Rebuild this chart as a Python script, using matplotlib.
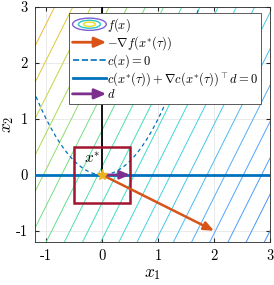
import numpy as np
import matplotlib.pyplot as plt
from matplotlib.colors import LinearSegmentedColormap, Normalize
from matplotlib.legend_handler import HandlerBase
from matplotlib.patches import Ellipse, FancyArrowPatch, Rectangle
from matplotlib.lines import Line2D

plt.rcParams['font.family'] = ['cmr10', 'DejaVu Serif']
plt.rcParams['mathtext.fontset'] = 'cm'
plt.rcParams['axes.formatter.use_mathtext'] = True

# problem data
grad_f = [-2.0, 1.0]                 # f(x) = grad_f . x (linear objective)
x_star = [0.0, 0.0]
step_d = [0.5, 0.0]
trust_radius = 0.5
f_levels = np.arange(-8.95, 6.0, 0.65)
ticks = [-1, 0, 1, 2, 3]
tick_labels = ['-1', '0', '1', '2', '3']
xlim = [-1.2, 3.0]
ylim = [-1.2, 3.0]

# colours of the contour lines, low f -> high f
level_cmap = LinearSegmentedColormap.from_list('lv', [
    (0.0, '#3f86f5'), (0.2, '#52a6ff'), (0.4, '#3fd4e6'), (0.55, '#3ee0b4'),
    (0.7, '#7ede7a'), (0.82, '#bcd843'), (0.92, '#eec232'), (1.0, '#f0a024')])

BLUE = '#0072BD'
ORANGE = '#D95319'
PURPLE = '#7E2F8E'
YELLOW = '#EDB120'
DARKRED = '#A2142F'


class HandlerEllipses(HandlerBase):
    def create_artists(self, legend, orig, xd, yd, w, h, fs, trans):
        cx, cy = w / 2 - xd, h / 2 - yd
        out = []
        for k, c in zip([1.0, 0.65, 0.35], ['#7b5fd6', '#2ec4c9', '#e8e020']):
            e = Ellipse((cx, cy), w * k, h * 1.4 * k, fill=False, ec=c, lw=1.0,
                        transform=trans)
            out.append(e)
        return out


class HandlerArrow(HandlerBase):
    def create_artists(self, legend, orig, xd, yd, w, h, fs, trans):
        a = FancyArrowPatch((-xd, h / 2 - yd), (w - xd, h / 2 - yd),
                            arrowstyle='-|>,head_length=7,head_width=3',
                            color=orig.get_color(), lw=2, mutation_scale=1,
                            shrinkA=0, shrinkB=0, transform=trans)
        return [a]


fig = plt.figure(figsize=(2.74, 2.85), dpi=100)
ax = fig.add_axes([35 / 274, 1 - 242 / 285, 235 / 274, 235 / 285])

g = np.linspace(-1.5, 3.5, 201)
X1, X2 = np.meshgrid(g, g)
F = grad_f[0] * X1 + grad_f[1] * X2
ax.contour(X1, X2, F, levels=f_levels, cmap=level_cmap,
           norm=Normalize(-7.5, 5.6), linewidths=0.7, zorder=1)

# constraint c(x) = x1^2 - x2 = 0
xp = np.linspace(-1.8, 1.8, 200)
ax.plot(xp, xp ** 2, '--', color=BLUE, lw=0.9, dashes=(3, 2.5), zorder=2)
# linearised constraint
ax.axhline(0, color=BLUE, lw=2, zorder=3)
ax.plot([0, 0], [0, 3.2], color='k', lw=1.3, zorder=3)

ax.add_patch(Rectangle((x_star[0] - trust_radius, x_star[1] - trust_radius),
                       2 * trust_radius, 2 * trust_radius, fill=False,
                       ec=DARKRED, lw=1.8, zorder=4))

ax.annotate('', xy=(x_star[0] - grad_f[0], x_star[1] - grad_f[1]), xytext=x_star,
            arrowprops=dict(arrowstyle='-|>,head_length=0.6,head_width=0.25',
                            color=ORANGE, lw=1.8, shrinkA=0, shrinkB=0), zorder=5)
ax.annotate('', xy=(x_star[0] + step_d[0], x_star[1] + step_d[1]), xytext=x_star,
            arrowprops=dict(arrowstyle='-|>,head_length=0.6,head_width=0.25',
                            color=PURPLE, lw=1.8, shrinkA=0, shrinkB=0), zorder=5)
ax.plot(*x_star, marker='*', color=YELLOW, ms=8, zorder=6)
ax.text(-0.32, 0.22, r'$x^{*}$', fontsize=11, zorder=6)

ax.set_xlim(xlim)
ax.set_ylim(ylim)
ax.set_xticks(ticks)
ax.set_yticks(ticks)
ax.set_xticklabels(tick_labels, fontsize=10.5)
ax.set_yticklabels(tick_labels, fontsize=10.5)
ax.tick_params(direction='in', length=3, color='#262626', top=True, right=True,
               labeltop=False, labelright=False, pad=5)
ax.grid(True, color='#e6e6e6', lw=0.6, zorder=0)
ax.set_axisbelow(True)
for s in ax.spines.values():
    s.set_color('#262626')
    s.set_linewidth(0.6)
ax.set_xlabel(r'$x_1$', fontsize=12.5, labelpad=3)
ax.set_ylabel(r'$x_2$', fontsize=12.5, labelpad=0)

h_f = Line2D([], [], color='k')
h_g = Line2D([], [], color=ORANGE)
h_c = Line2D([], [], color=BLUE, ls='--', lw=1.2)
h_l = Line2D([], [], color=BLUE, lw=2)
h_d = Line2D([], [], color=PURPLE)
leg = ax.legend([h_f, h_g, h_c, h_l, h_d],
                [r'$f(x)$', r'$-\nabla f(x^{*}(\tau))$', r'$c(x)=0$',
                 r'$c(x^{*}(\tau))+\nabla c(x^{*}(\tau))^{\top}d=0$', r'$d$'],
                handler_map={h_f: HandlerEllipses(), h_g: HandlerArrow(),
                             h_d: HandlerArrow()},
                loc='upper right', bbox_to_anchor=(0.962, 0.974), fontsize=9,
                frameon=True, fancybox=False, framealpha=1, edgecolor='#404040',
                handlelength=2.7, handletextpad=0.05, borderpad=0.25,
                labelspacing=0.02, borderaxespad=0)
leg.get_frame().set_linewidth(0.6)
leg.set_zorder(10)

fig.savefig('out.png', dpi=100)
